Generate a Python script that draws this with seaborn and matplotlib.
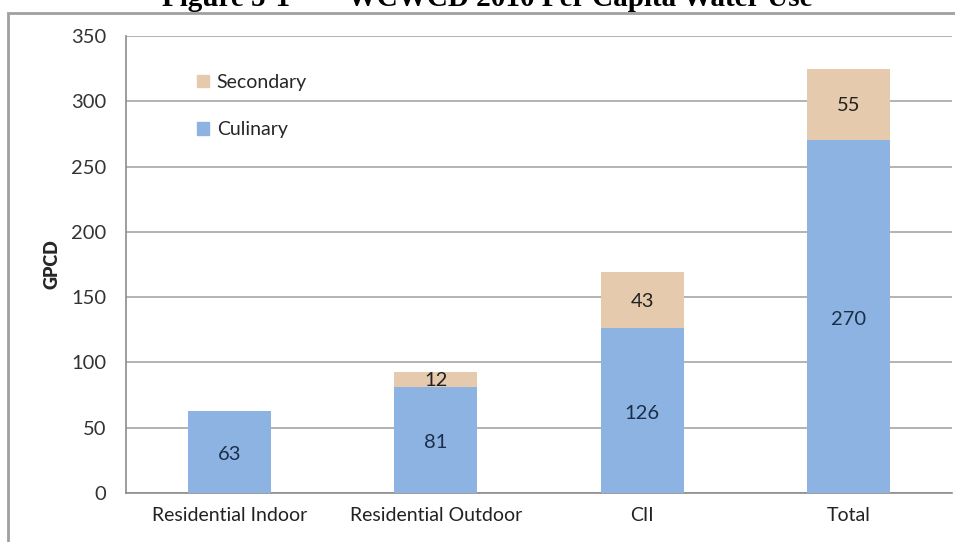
import numpy as np
import pandas as pd
import matplotlib
matplotlib.use("Agg")
import matplotlib.pyplot as plt
from matplotlib.patches import Rectangle, Patch
import seaborn as sns

# data
categories = ["Residential Indoor", "Residential Outdoor", "CII", "Total"]
culinary = [63, 81, 126, 270]
secondary = [0, 12, 43, 55]

blue = "#8DB3E2"
tan = "#E6CAAE"

sns.set_theme(style="white")
plt.rcParams["font.family"] = ["Lato", "DejaVu Sans"]

df = pd.DataFrame({"category": categories, "Culinary": culinary,
                   "Secondary": secondary})
df["total"] = df["Culinary"] + df["Secondary"]

fig = plt.figure(figsize=(9.55, 5.42), dpi=100)
ax = fig.add_axes([126 / 955, 1 - 493 / 542, (952 - 126) / 955, (493 - 36) / 542])

# stacked bars: draw totals in tan, then culinary on top in blue
sns.barplot(data=df, x="category", y="total", color=tan, saturation=1,
            width=0.4, ax=ax, zorder=2)
sns.barplot(data=df, x="category", y="Culinary", color=blue, saturation=1,
            width=0.4, ax=ax, zorder=3)
for p in ax.patches:
    p.set_edgecolor("none")

# value labels
for i, (c, s) in enumerate(zip(culinary, secondary)):
    ax.text(i, c / 2 - 2, str(c), ha="center", va="center", fontsize=14.5,
            color="#1B2F4A", zorder=4)
    if s:
        ax.text(i, c + s / 2 - 1, str(s), ha="center", va="center", fontsize=14.5,
                color="#222222", zorder=4)

ax.set_ylim(0, 350)
ax.set_xlim(-0.5, 3.5)
ax.set_yticks(range(0, 351, 50))
ax.yaxis.grid(True, color="#A6A6A6", linewidth=1.2, zorder=0)
ax.set_axisbelow(True)
ax.set_xlabel("")
ax.set_ylabel("GPCD", fontsize=13, fontweight="heavy", labelpad=8)

for side in ["top", "right"]:
    ax.spines[side].set_visible(False)
for side in ["left", "bottom"]:
    ax.spines[side].set_color("#8C8C8C")
    ax.spines[side].set_linewidth(1.2)

ax.tick_params(axis="y", length=8, color="#8C8C8C", width=1.2,
               labelsize=14.5, labelcolor="#333333", pad=6)
ax.tick_params(axis="x", which="major", length=0, labelsize=14,
               labelcolor="#222222", pad=10)
ax.set_xticks(np.arange(-0.5, 3.6, 1), minor=True)
ax.tick_params(axis="x", which="minor", length=8, color="#8C8C8C", width=1.2)

handles = [Patch(color=tan, label="Secondary"), Patch(color=blue, label="Culinary")]
ax.legend(handles=handles, loc="upper left", bbox_to_anchor=(0.065, 0.955),
          frameon=False, fontsize=14, handlelength=0.6, handleheight=0.6,
          handletextpad=0.4, labelspacing=1.55)

# outer chart frame and title (cut off at the top, as in the reference)
fig.patches.append(Rectangle((8 / 955, -0.1), 1.1, 1 - 13 / 542 + 0.1,
                             transform=fig.transFigure, fill=False,
                             edgecolor="#A0A0A0", linewidth=2))
fig.text(487 / 955, 1 - 6 / 542, "Figure 5-1        WCWCD 2010 Per Capita Water Use",
         ha="center", va="baseline", fontsize=21, fontweight="bold",
         family=["Liberation Serif", "DejaVu Serif"], color="black")

fig.savefig("out.png", dpi=100)
